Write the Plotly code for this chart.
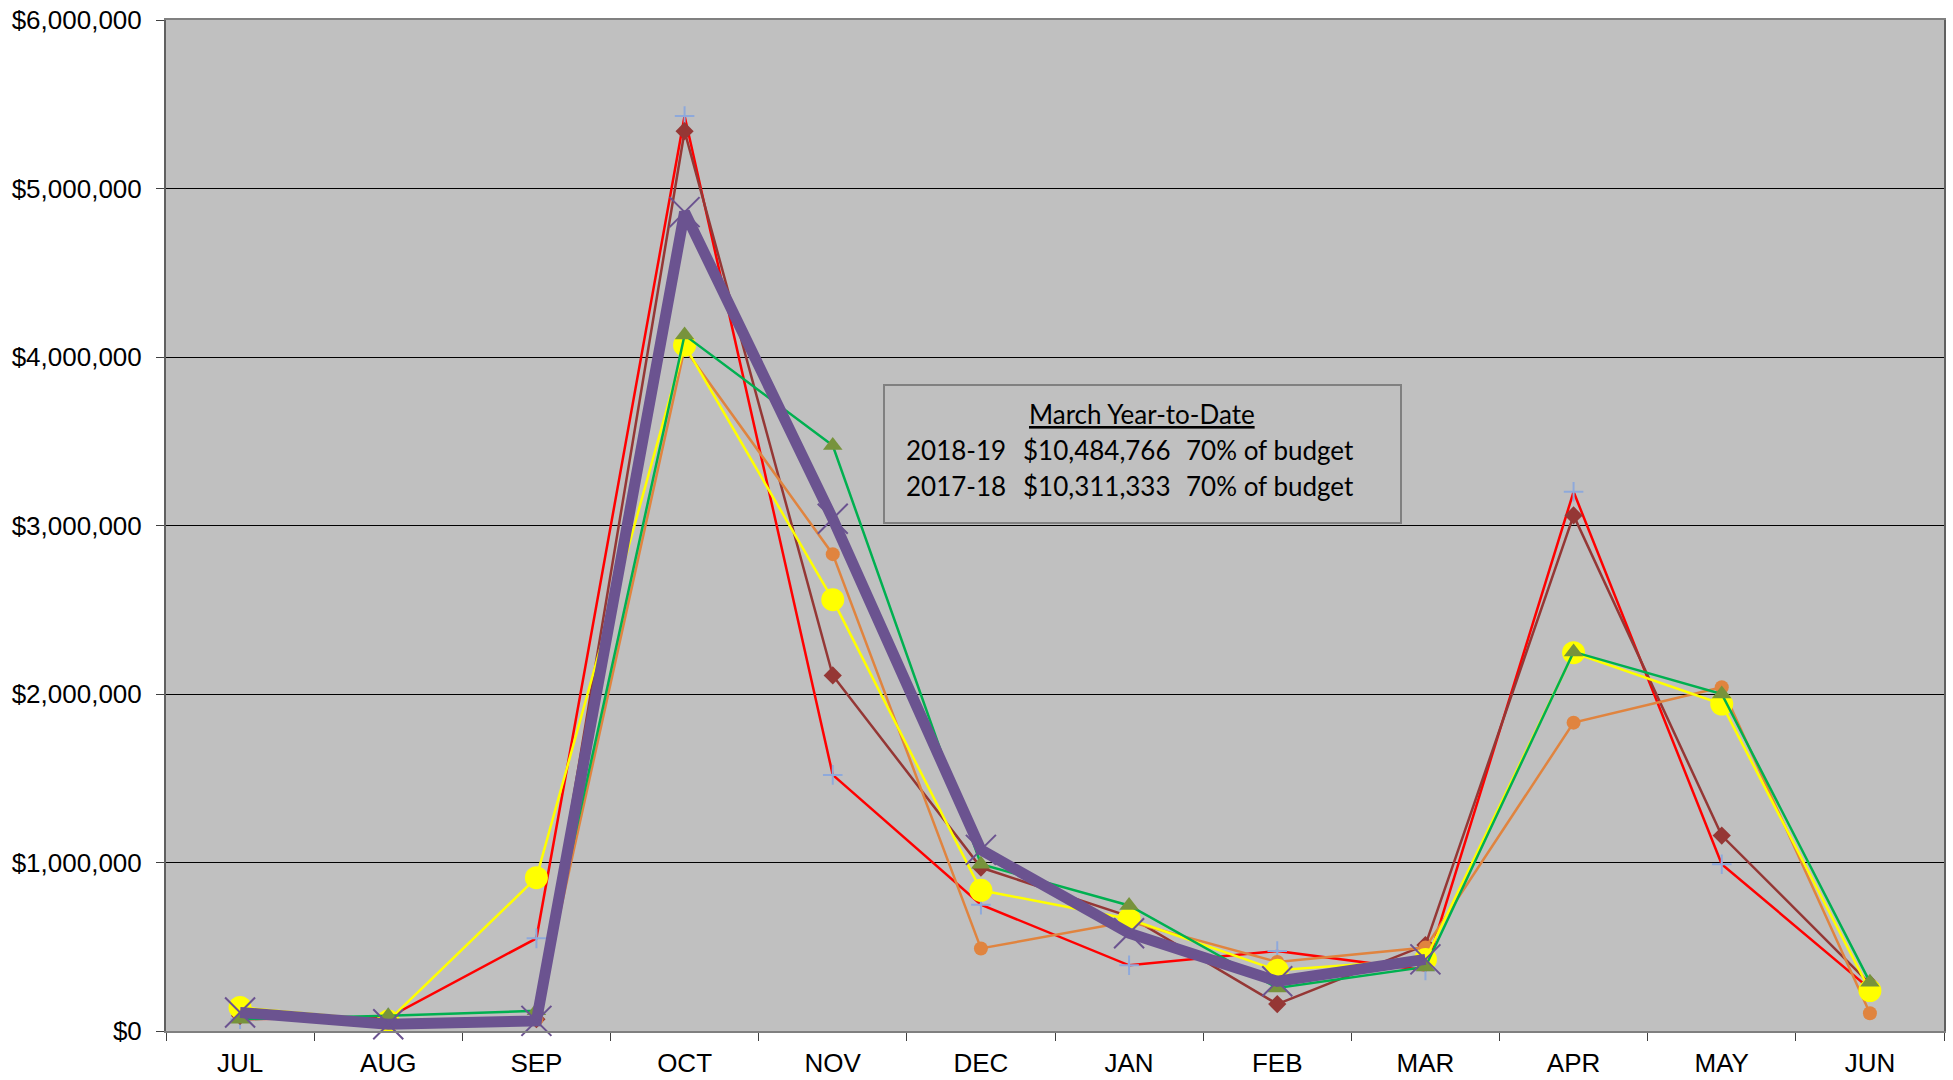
import plotly.graph_objects as go

months = ["JUL", "AUG", "SEP", "OCT", "NOV", "DEC", "JAN", "FEB", "MAR", "APR", "MAY", "JUN"]

# Monthly receipts by fiscal year (dollars)
fy_a = [70000, 80000, 550000, 5430000, 1520000, 750000, 390000, 475000, 360000, 3200000, 990000, 250000]
fy_b = [90000, 60000, 70000, 5340000, 2110000, 970000, 680000, 160000, 510000, 3060000, 1160000, 280000]
fy_c = [90000, 60000, 70000, 4050000, 2830000, 490000, 650000, 410000, 495000, 1830000, 2040000, 105000]
fy_d = [70000, 90000, 120000, 4130000, 3475000, 990000, 745000, 255000, 380000, 2250000, 2000000, 290000]
fy_e = [140000, 60000, 910000, 4070000, 2560000, 835000, 665000, 360000, 425000, 2245000, 1940000, 240000]
fy_current = [110000, 40000, 60000, 4860000, 3040000, 1075000, 580000, 295000, 425000]

ytd_title = "March Year-to-Date"
ytd_years = ["2018-19", "2017-18"]
ytd_amounts = ["$10,484,766", "$10,311,333"]
ytd_pct = ["70% of budget", "70% of budget"]

y_ticks = [0, 1000000, 2000000, 3000000, 4000000, 5000000, 6000000]
y_tick_text = ["${:,.0f}".format(v) for v in y_ticks]

fig = go.Figure()

series = [
    (fy_a, "#FF0000", 2.5, dict(symbol="cross-thin", size=14, color="#8EA9DB",
                                line=dict(color="#8EA9DB", width=2))),
    (fy_b, "#953735", 2.5, dict(symbol="diamond", size=14, color="#953735")),
    (fy_c, "#E0843F", 2.5, dict(symbol="circle", size=14, color="#E0843F")),
    (fy_e, "#FFFF00", 2.5, dict(symbol="circle", size=23, color="#FFFF00")),
    (fy_d, "#00B050", 2.5, dict(symbol="triangle-up", size=17, color="#77933C")),
    (fy_current, "#6B5390", 11, dict(symbol="x-thin", size=30, color="#6B5390",
                                     line=dict(color="#6B5390", width=2))),
]
for vals, col, w, mk in series:
    fig.add_trace(go.Scatter(
        x=months[:len(vals)], y=vals, mode="lines+markers",
        line=dict(color=col, width=w), marker=mk, showlegend=False,
        cliponaxis=False,
    ))

L, R, T, B = 166, 9, 20, 49
W, H = 1953, 1080
pw, ph = W - L - R, H - T - B


def px_x(v):
    return (v - L) / pw


def px_y(v):
    return (H - B - v) / ph


axis_font = dict(family="Liberation Sans, Arial", size=26, color="black")

fig.update_layout(
    width=W, height=H,
    margin=dict(l=L, r=R, t=T, b=B, autoexpand=False),
    paper_bgcolor="white",
    plot_bgcolor="#C0C0C0",
    font=axis_font,
    xaxis=dict(
        type="category", categoryorder="array", categoryarray=months,
        range=[-0.5, 11.5], tickfont=axis_font, automargin=False,
        showgrid=False, ticks="outside", tickson="boundaries", ticklen=8,
        tickcolor="#404040", showline=True, linecolor="#808080", linewidth=2,
        mirror=True, ticklabelstandoff=8,
    ),
    yaxis=dict(
        range=[0, 6000000], tickmode="array", tickvals=y_ticks, ticktext=y_tick_text,
        tickfont=axis_font, automargin=False,
        showgrid=True, gridcolor="black", gridwidth=1,
        zeroline=True, zerolinecolor="#404040", zerolinewidth=2,
        ticks="outside", ticklen=8, tickcolor="#404040",
        showline=True, linecolor="#606060", linewidth=2, mirror=True,
        ticklabelstandoff=9,
    ),
)

# Year-to-date summary box
fig.add_shape(type="rect", xref="paper", yref="paper",
              x0=px_x(884), x1=px_x(1401), y0=px_y(523), y1=px_y(385),
              fillcolor="#C0C0C0", line=dict(color="#808080", width=2))

box_font = dict(family="Lato, Carlito, Calibri", size=26, color="black")
fig.add_annotation(xref="paper", yref="paper", x=px_x(1142), y=px_y(414),
                   text="<u>" + ytd_title + "</u>", showarrow=False,
                   xanchor="center", yanchor="middle", font=box_font)
row_y = [450, 486]
col_x = [904, 1021, 1184]
for i in range(2):
    for cx, txt in zip(col_x, [ytd_years[i], ytd_amounts[i], ytd_pct[i]]):
        fig.add_annotation(xref="paper", yref="paper", x=px_x(cx), y=px_y(row_y[i]),
                           text=txt, showarrow=False, xanchor="left",
                           yanchor="middle", font=box_font)

fig.write_html("out.html")
